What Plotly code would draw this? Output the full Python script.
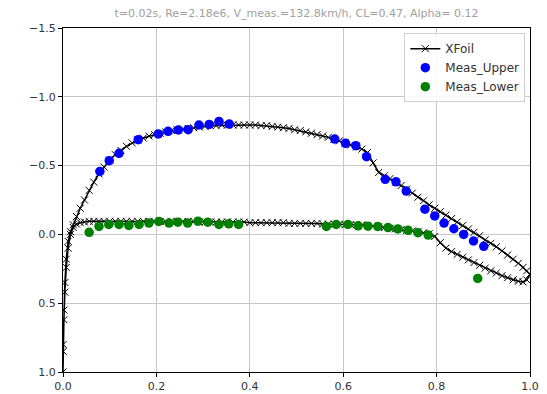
import plotly.graph_objects as go

title_text = "t=0.02s, Re=2.18e6, V_meas.=132.8km/h, CL=0.47, Alpha= 0.12"

# XFoil stations (x/c) shared by upper and lower surface
xf_x = [0.0, 0.0005, 0.002, 0.004, 0.007, 0.011, 0.016, 0.022, 0.029, 0.037, 0.046, 0.056,
        0.066, 0.077, 0.088, 0.10, 0.112, 0.124, 0.136, 0.148, 0.16, 0.172, 0.184, 0.196,
        0.208, 0.22, 0.232, 0.244, 0.256, 0.268, 0.28, 0.292, 0.304, 0.316, 0.328, 0.34,
        0.352, 0.364, 0.376, 0.388, 0.40, 0.412, 0.424, 0.436, 0.448, 0.46, 0.472, 0.484,
        0.496, 0.508, 0.52, 0.532, 0.544, 0.556, 0.568, 0.58, 0.592, 0.604, 0.616, 0.628,
        0.64, 0.652, 0.664, 0.676, 0.688, 0.70, 0.712, 0.724, 0.736, 0.748, 0.76, 0.772,
        0.784, 0.796, 0.808, 0.82, 0.832, 0.844, 0.856, 0.868, 0.88, 0.892, 0.904, 0.916,
        0.928, 0.94, 0.952, 0.964, 0.975, 0.985, 0.993, 1.0]

xf_cp_upper = [1.0, 0.8, 0.55, 0.35, 0.18, 0.05, -0.02, -0.07, -0.13, -0.19, -0.25, -0.32,
               -0.38, -0.44, -0.49, -0.54, -0.58, -0.61, -0.64, -0.665, -0.685, -0.70, -0.715, -0.725,
               -0.735, -0.745, -0.755, -0.76, -0.765, -0.77, -0.775, -0.78, -0.785, -0.79, -0.79, -0.795,
               -0.795, -0.795, -0.795, -0.795, -0.795, -0.795, -0.79, -0.79, -0.785, -0.78, -0.775, -0.77,
               -0.76, -0.755, -0.745, -0.735, -0.725, -0.715, -0.705, -0.69, -0.68, -0.665, -0.65, -0.635,
               -0.62, -0.595, -0.52, -0.45, -0.425, -0.405, -0.38, -0.355, -0.33, -0.30, -0.27, -0.245,
               -0.215, -0.19, -0.165, -0.14, -0.115, -0.09, -0.065, -0.04, -0.015, 0.01, 0.04, 0.065,
               0.09, 0.12, 0.15, 0.18, 0.21, 0.24, 0.265, 0.29]

xf_cp_lower = [1.0, 0.85, 0.62, 0.42, 0.24, 0.10, 0.0, -0.05, -0.075, -0.085, -0.09, -0.095,
               -0.095, -0.095, -0.095, -0.095, -0.095, -0.095, -0.095, -0.095, -0.095, -0.095, -0.095, -0.095,
               -0.095, -0.095, -0.095, -0.095, -0.095, -0.095, -0.095, -0.09, -0.09, -0.09, -0.09, -0.09,
               -0.09, -0.09, -0.09, -0.09, -0.085, -0.085, -0.085, -0.085, -0.085, -0.085, -0.085, -0.08,
               -0.08, -0.08, -0.08, -0.08, -0.08, -0.075, -0.075, -0.075, -0.075, -0.07, -0.07, -0.07,
               -0.07, -0.065, -0.06, -0.055, -0.05, -0.045, -0.04, -0.035, -0.03, -0.025, -0.02, -0.012,
               -0.005, 0.015, 0.06, 0.10, 0.125, 0.145, 0.165, 0.185, 0.205, 0.225, 0.245, 0.265,
               0.28, 0.30, 0.315, 0.33, 0.34, 0.345, 0.33, 0.29]

meas_upper_x = [0.079, 0.099, 0.120, 0.161, 0.204, 0.225, 0.247, 0.268, 0.291, 0.313, 0.334, 0.356,
                0.582, 0.605, 0.627, 0.650, 0.690, 0.713, 0.735, 0.775, 0.796, 0.816, 0.837, 0.858,
                0.879, 0.901]
meas_upper_cp = [-0.458, -0.536, -0.589, -0.688, -0.730, -0.749, -0.759, -0.761, -0.795, -0.799, -0.821, -0.802,
                 -0.693, -0.662, -0.645, -0.565, -0.400, -0.382, -0.315, -0.183, -0.134, -0.082, -0.041, 0.0,
                 0.048, 0.087]

meas_lower_x = [0.056, 0.077, 0.098, 0.120, 0.141, 0.163, 0.184, 0.205, 0.227, 0.246, 0.267, 0.289,
                0.310, 0.334, 0.355, 0.376, 0.564, 0.585, 0.610, 0.632, 0.653, 0.674, 0.696, 0.717,
                0.739, 0.760, 0.782, 0.888]
meas_lower_cp = [-0.015, -0.058, -0.072, -0.072, -0.065, -0.072, -0.082, -0.094, -0.082, -0.089, -0.082, -0.096,
                 -0.089, -0.072, -0.077, -0.072, -0.058, -0.072, -0.072, -0.062, -0.060, -0.058, -0.050, -0.040,
                 -0.030, -0.012, 0.005, 0.320]

x_ticks = [0.0, 0.2, 0.4, 0.6, 0.8, 1.0]
y_ticks = [-1.5, -1.0, -0.5, 0.0, 0.5, 1.0]

# closed XFoil loop: upper from TE to LE, then lower from LE to TE
loop_x = xf_x[::-1] + xf_x[1:]
loop_cp = xf_cp_upper[::-1] + xf_cp_lower[1:]

font_family = "DejaVu Sans"

fig = go.Figure()
fig.add_trace(go.Scatter(
    x=loop_x, y=loop_cp, mode="lines+markers", name="XFoil",
    line=dict(color="black", width=1.5),
    marker=dict(symbol="x-thin", size=7, line=dict(color="black", width=1), color="black"),
))
fig.add_trace(go.Scatter(
    x=meas_upper_x, y=meas_upper_cp, mode="markers", name="Meas_Upper",
    marker=dict(color="#0000ff", size=9.5),
))
fig.add_trace(go.Scatter(
    x=meas_lower_x, y=meas_lower_cp, mode="markers", name="Meas_Lower",
    marker=dict(color="#008000", size=9.5),
))

axis_common = dict(
    showline=True, linecolor="black", linewidth=1, mirror=True,
    ticks="outside", ticklen=4, tickcolor="black", tickwidth=1,
    showgrid=True, gridcolor="#c8c8c8", gridwidth=1,
    zeroline=False, tickformat=".1f", automargin=False,
    tickfont=dict(family=font_family, size=11, color="#333333"),
)

fig.update_layout(
    width=547, height=394,
    margin=dict(l=63, r=17, t=28, b=22),
    paper_bgcolor="white", plot_bgcolor="white",
    title=dict(text=title_text, x=(63 + 530) / 2 / 547, xanchor="center", y=1 - 13 / 394, yanchor="middle",
               font=dict(family=font_family, size=11, color="#a0a0a0"), automargin=False),
    legend=dict(x=0.99, y=0.985, xanchor="right", yanchor="top",
                bgcolor="rgba(255,255,255,0.85)", bordercolor="#d0d0d0", borderwidth=1,
                font=dict(family=font_family, size=12, color="#333333"),
                tracegroupgap=0, itemsizing="trace"),
    showlegend=True,
)
fig.update_xaxes(range=[0, 1], tickvals=x_ticks, **axis_common)
fig.update_yaxes(range=[1.0, -1.5], tickvals=y_ticks, **axis_common)

fig.write_html("out.html", config={"displayModeBar": False},
               post_script="document.body.style.margin='0';")
